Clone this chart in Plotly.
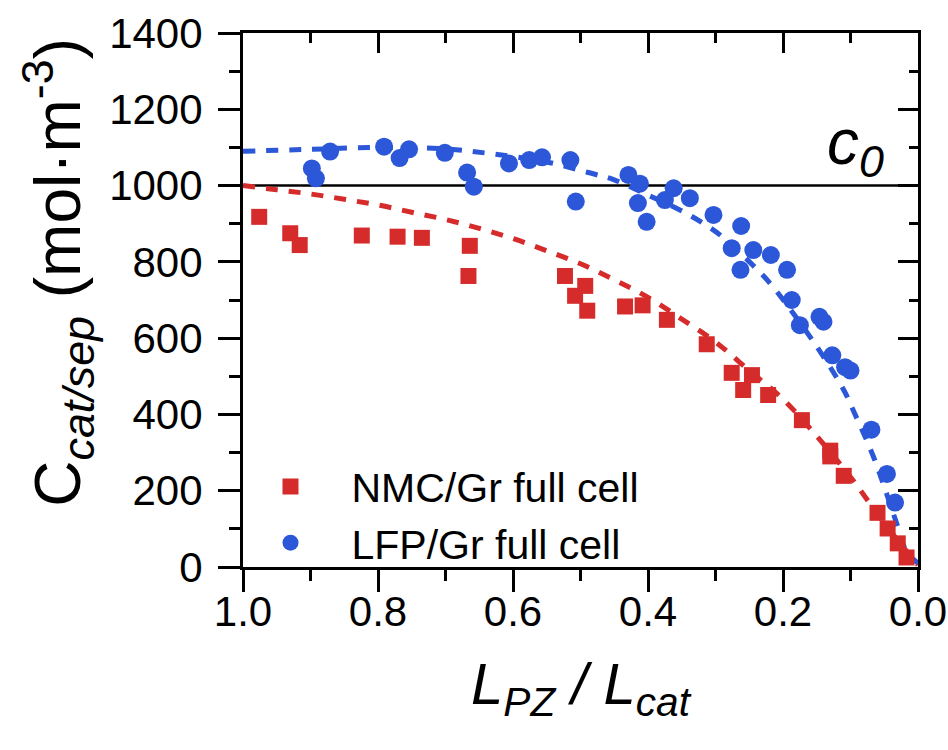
import plotly.graph_objects as go

# ---- data ----
nmc_x = [0.976, 0.930, 0.916, 0.824, 0.771, 0.735, 0.664, 0.666, 0.523, 0.508, 0.493, 0.490,
         0.434, 0.408, 0.372, 0.313, 0.276, 0.259, 0.246, 0.222, 0.172, 0.130, 0.130, 0.110,
         0.060, 0.045, 0.030, 0.017]
nmc_y = [918, 875, 844, 869, 866, 863, 842, 763, 763, 711, 737, 672,
         683, 686, 648, 584, 509, 464, 503, 451, 385, 305, 290, 239,
         142, 101, 62, 25]

lfp_x = [0.898, 0.892, 0.871, 0.791, 0.768, 0.754, 0.701, 0.668, 0.658, 0.606, 0.576, 0.557,
         0.515, 0.507, 0.429, 0.412, 0.415, 0.402, 0.362, 0.375, 0.338, 0.303, 0.262, 0.276,
         0.244, 0.218, 0.263, 0.194, 0.187, 0.175, 0.146, 0.140, 0.127, 0.108, 0.100, 0.069,
         0.046, 0.034]
lfp_y = [1045, 1019, 1089, 1102, 1072, 1095, 1086, 1034, 997, 1058, 1067, 1074,
         1067, 958, 1028, 1005, 954, 905, 993, 962, 967, 923, 894, 836,
         831, 818, 779, 779, 700, 634, 656, 643, 555, 524, 515, 360,
         244, 169]

nmc_fit_x = [1.0, 0.95, 0.9, 0.85, 0.8, 0.75, 0.7, 0.65, 0.6, 0.55, 0.5, 0.45, 0.4, 0.35,
             0.3, 0.25, 0.2, 0.15, 0.1, 0.05, 0.0]
nmc_fit_y = [1000, 989, 978, 964, 949, 930, 911, 888, 861, 829, 795, 753, 707, 650,
             590, 515, 440, 343, 236, 115, 5]

lfp_fit_x = [1.0, 0.9, 0.8, 0.7, 0.63, 0.55, 0.49, 0.45, 0.4, 0.355, 0.32, 0.29, 0.24,
             0.215, 0.15, 0.11, 0.095, 0.066, 0.03, 0.017, 0.0]
lfp_fit_y = [1090, 1095, 1100, 1096, 1083, 1062, 1035, 1015, 975, 938, 903, 866, 783,
             735, 578, 464, 407, 289, 106, 40, 10]

c0_value = 1000
x_ticks = [1.0, 0.8, 0.6, 0.4, 0.2, 0.0]
x_ticklabels = ["1.0", "0.8", "0.6", "0.4", "0.2", "0.0"]
y_ticks = [0, 200, 400, 600, 800, 1000, 1200, 1400]

RED = "#d62b2b"
BLUE = "#2b57d8"
FONT = "Liberation Sans, Arial, sans-serif"

fig = go.Figure()

fig.add_trace(go.Scatter(x=nmc_fit_x, y=nmc_fit_y, mode="lines", showlegend=False,
                         line=dict(color=RED, width=5, dash="12px,11px", shape="spline"),
                         hoverinfo="skip"))
fig.add_trace(go.Scatter(x=lfp_fit_x, y=lfp_fit_y, mode="lines", showlegend=False,
                         line=dict(color=BLUE, width=5, dash="12px,11px", shape="spline"),
                         hoverinfo="skip"))
fig.add_trace(go.Scatter(x=nmc_x, y=nmc_y, mode="markers", name="NMC/Gr full cell",
                         marker=dict(symbol="square", size=16, color=RED)))
fig.add_trace(go.Scatter(x=lfp_x, y=lfp_y, mode="markers", name="LFP/Gr full cell",
                         marker=dict(symbol="circle", size=18, color=BLUE)))
# helper trace for mirrored (top/right) axes
fig.add_trace(go.Scatter(x=[None], y=[None], xaxis="x2", yaxis="y2", showlegend=False,
                         hoverinfo="skip"))

fig.add_shape(type="line", xref="paper", x0=0, x1=1, yref="y", y0=c0_value, y1=c0_value,
              line=dict(color="black", width=2.5), layer="below")

fig.add_annotation(x=0.092, y=1105, xref="x", yref="y", text="<i>c</i><sub><i>0</i></sub>",
                   showarrow=False, font=dict(size=64, color="black", family=FONT),
                   xanchor="center", yanchor="middle")

# y-axis title placed as a rotated annotation
fig.add_annotation(x=-0.2756, y=0.553, xref="paper", yref="paper",
                   text="C<sub><i>cat/sep</i></sub> (mol·m<sup>-3</sup>)",
                   textangle=-90, showarrow=False,
                   font=dict(size=64, color="black", family=FONT),
                   xanchor="center", yanchor="middle")

axis_common = dict(showline=True, linecolor="black", linewidth=3, showgrid=False,
                   zeroline=False, tickcolor="black", tickwidth=3, automargin=False)

fig.update_layout(
    width=948, height=750,
    margin=dict(l=243, r=30, t=33, b=183),
    paper_bgcolor="white", plot_bgcolor="white",
    font=dict(family=FONT, color="black"),
    xaxis=dict(range=[1.0, 0.0], tickvals=x_ticks, ticktext=x_ticklabels,
               ticks="outside", ticklen=22, ticklabelstandoff=-16,
               minor=dict(dtick=0.1, ticks="outside", ticklen=11, tickwidth=3, tickcolor="black"),
               tickfont=dict(size=42, family=FONT),
               title=dict(text="<i>L</i><sub><i>PZ</i></sub><i> / L</i><sub><i>cat</i></sub>",
                          font=dict(size=58, family=FONT), standoff=29),
               **axis_common),
    yaxis=dict(range=[0, 1400], tickvals=y_ticks, ticks="outside", ticklen=22,
               minor=dict(dtick=100, ticks="outside", ticklen=11, tickwidth=3, tickcolor="black"),
               tickfont=dict(size=42, family=FONT), ticklabelstandoff=7,
               **axis_common),
    xaxis2=dict(range=[1.0, 0.0], overlaying="x", side="top", anchor="y",
                tickvals=x_ticks, showticklabels=False, ticks="inside", ticklen=20,
                minor=dict(dtick=0.1, ticks="inside", ticklen=10, tickwidth=3, tickcolor="black"),
                **axis_common),
    yaxis2=dict(range=[0, 1400], overlaying="y", side="right", anchor="x",
                tickvals=y_ticks, showticklabels=False, ticks="inside", ticklen=20,
                minor=dict(dtick=100, ticks="inside", ticklen=9, tickwidth=3, tickcolor="black"),
                **axis_common),
    legend=dict(x=-0.02, y=0.213, xanchor="left", yanchor="top", xref="paper", yref="paper",
                bgcolor="rgba(0,0,0,0)", font=dict(size=41, family=FONT),
                itemwidth=112, tracegroupgap=0),
)

fig.write_html("out.html")
